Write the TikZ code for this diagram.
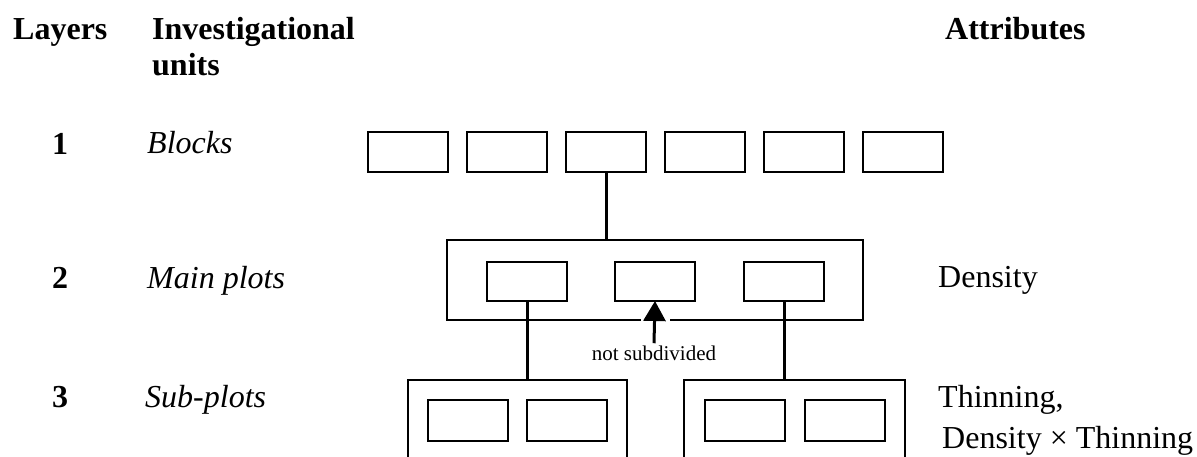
\documentclass[tikz,border=0pt]{standalone}
\usepackage{fontspec}
\setmainfont{Liberation Serif}
\usetikzlibrary{positioning,arrows.meta}
\tikzset{
box/.style={
  draw,
  rectangle,
  line width=1.5pt,
  inner sep=0pt,
  outer sep=0pt,
  minimum width=80pt,
  minimum height=40pt
  },
link/.style={line width=3pt},
pointer/.style={-{Triangle[length=20pt,width=22pt]}, line width=3pt},
headtext/.style={font=\bfseries\fontsize{32}{36}\selectfont, inner sep=0pt, anchor=base west},
unittext/.style={font=\itshape\fontsize{32}{36}\selectfont, inner sep=0pt, anchor=base west},
attrtext/.style={font=\fontsize{32}{36}\selectfont, inner sep=0pt, anchor=base west},
layernum/.style={font=\bfseries\fontsize{32}{36}\selectfont, inner sep=0pt, anchor=base}
}

\begin{document}
\begin{tikzpicture}[x=1pt,y=-1pt]
\useasboundingbox (0,0) rectangle (1197,456);
\clip (0,0) rectangle (1197,456);

% column heads
\node[headtext] (layers) at (13,39) {Layers};
\node[headtext] (inv) at (152,39) {Investigational};
\node[headtext] (units) at (152,75) {units};
\node[headtext] (attr) at (945,39) {Attributes};

% layer numbers and units
\node[layernum] (n1) at (60,154) {1};
\node[layernum] (n2) at (60,288) {2};
\node[layernum] (n3) at (60,407) {3};
\node[unittext] (u1) at (147,153) {Blocks};
\node[unittext] (u2) at (147,288) {Main plots};
\node[unittext] (u3) at (145,407) {Sub-plots};

% attributes
\node[attrtext] (a2) at (938,287) {Density};
\node[attrtext] (a3) at (938,407) {Thinning,};
\node[attrtext] (a4) at (942,448) {Density × Thinning};

% blocks
\node[box] (b1) at (408,152) {};
\node[box, right=19pt of b1] (b2) {};
\node[box, right=19pt of b2] (b3) {};
\node[box, right=19pt of b3] (b4) {};
\node[box, right=19pt of b4] (b5) {};
\node[box, right=19pt of b5] (b6) {};

% main plots
\node[box, minimum width=416pt, minimum height=80pt] (main) at (655,280) {};
\node[box, minimum height=39pt] (pB) at (655,281.5) {};
\node[box, minimum height=39pt, left=48pt of pB] (pA) {};
\node[box, minimum height=39pt, right=49pt of pB] (pC) {};

% sub-plots
\node[box, minimum width=219pt, minimum height=100pt] (sub1) at (517.5,430) {};
\node[box, minimum height=41pt] (s1a) at (468,420.5) {};
\node[box, minimum height=41pt, right=19pt of s1a] (s1b) {};
\node[box, minimum width=221pt, minimum height=100pt] (sub2) at (794.5,430) {};
\node[box, minimum height=41pt] (s2a) at (745,420.5) {};
\node[box, minimum height=41pt, right=20pt of s2a] (s2b) {};

% connectors
\draw[link] (b3.south) -- (b3.south |- main.north);
\draw[link] (pA.south) -- (pA.south |- sub1.north);
\draw[link] (pC.south) -- (pC.south |- sub2.north);

\node[fill=white, inner sep=0pt, minimum width=29pt, minimum height=5pt] (gap) at (pB.south |- main.south) {};
\node[font=\fontsize{21}{24}\selectfont, inner sep=2pt, anchor=base] (note) at (654,360) {not subdivided};
\draw[pointer] (note.north) -- (pB.south);
\end{tikzpicture}
\end{document}
